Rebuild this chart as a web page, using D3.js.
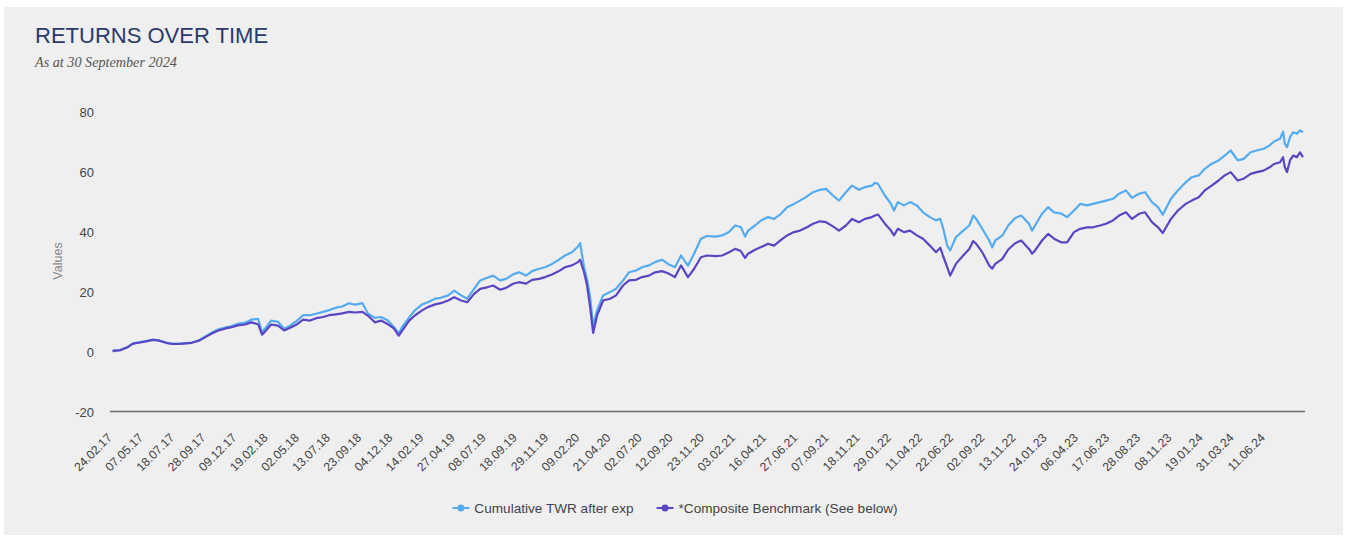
<!DOCTYPE html>
<html><head><meta charset="utf-8">
<script src="https://cdn.jsdelivr.net/npm/d3@7"></script>
<style>
body{margin:0;background:#fff;}
text{font-family:"Liberation Sans",Arial,Helvetica,sans-serif;}
</style></head>
<body>
<svg id="chart" width="1347" height="540"></svg>
<script>
// ---- DATA ----
const titleText = "RETURNS OVER TIME";
const subtitleText = "As at 30 September 2024";
const seriesNames = ["Cumulative TWR after exp", "*Composite Benchmark (See below)"];
// day index since 24.02.17 (category position on the daily axis)
const dayIndex = [0,3,17,33,47,63,77,93,107,123,137,153,169,183,199,213,229,243,259,275,289,306,320,336,345,354,366,382,396,410,426,440,456,470,486,500,516,530,546,560,577,590,606,620,636,650,661,668,685,698,715,728,745,758,775,789,805,819,835,849,865,879,895,909,925,939,955,969,985,999,1015,1031,1045,1061,1075,1080,1089,1096,1103,1110,1119,1133,1149,1163,1179,1193,1209,1223,1239,1253,1269,1283,1299,1313,1329,1343,1359,1373,1394,1408,1424,1438,1451,1461,1468,1484,1498,1514,1528,1544,1558,1574,1588,1604,1618,1634,1648,1664,1678,1694,1708,1724,1738,1754,1761,1768,1784,1798,1805,1814,1828,1842,1858,1872,1888,1902,1912,1918,1928,1935,1948,1965,1979,1988,1995,2009,2025,2032,2039,2055,2069,2085,2099,2117,2124,2131,2147,2161,2175,2191,2205,2221,2235,2251,2265,2281,2295,2311,2325,2341,2355,2371,2385,2401,2415,2426,2445,2461,2479,2493,2509,2523,2539,2555,2569,2583,2599,2613,2629,2643,2659,2673,2683,2697,2704,2708,2713,2720,2727,2736,2743,2750];
const twr = [0,0.3,0.5,1.4,2.7,3.1,3.5,4.0,3.7,3.0,2.6,2.6,2.8,3.0,3.7,4.9,6.3,7.3,8.0,8.5,9.2,9.6,10.6,10.9,6.5,8.0,10.3,9.9,7.6,8.6,10.3,12.1,12.1,12.6,13.2,13.8,14.6,15.0,16.1,15.6,16.1,12.6,11.2,11.5,10.3,8.1,6.0,8.0,11.4,13.7,15.7,16.4,17.6,17.9,18.7,20.3,18.7,17.6,20.9,23.7,24.6,25.3,23.7,24.2,25.7,26.4,25.3,26.8,27.6,28.1,29.2,30.6,32.0,33.1,35.0,36.1,28.1,24.0,18.1,8.5,13.7,18.7,19.8,20.9,23.7,26.4,27.0,28.1,28.7,29.8,30.6,29.2,28.1,32.0,28.6,32.5,37.6,38.5,38.3,38.7,39.8,42.0,41.5,38.3,40.3,42.0,43.7,44.8,44.2,45.9,48.1,49.2,50.3,51.7,53.1,53.9,54.2,52.0,50.3,53.1,55.3,53.9,54.8,55.3,56.2,55.9,52.0,49.2,47.0,49.8,48.7,49.8,48.7,46.4,44.8,43.7,44.2,41.4,35.3,33.7,38.1,40.3,42.0,45.3,44.2,40.9,37.0,34.7,37.0,38.6,42.0,44.5,45.3,42.6,40.3,42.0,45.9,48.1,46.4,46.0,44.8,47.0,49.2,48.7,49.2,49.8,50.3,50.9,52.6,53.7,51.2,52.6,53.1,49.8,48.1,45.6,50.9,53.7,56.4,58.1,58.7,60.9,62.6,63.7,65.3,67.0,63.7,64.2,66.4,67.0,67.6,68.7,70.0,70.9,73.3,69.2,68.1,71.4,73.1,72.6,73.7,73.1];
const bench = [0,0.3,0.4,1.3,2.6,3.0,3.4,3.9,3.6,2.9,2.5,2.5,2.7,2.9,3.6,4.7,6.0,6.9,7.6,8.1,8.7,9.0,9.7,9.1,5.6,7.0,9.0,8.6,7.0,7.9,9.1,10.6,10.3,11.1,11.5,12.1,12.4,12.7,13.2,13.0,13.2,11.9,9.7,10.3,9.1,7.6,5.3,6.8,10.3,12.0,13.7,14.8,15.7,16.1,17.0,18.1,17.0,16.4,19.2,20.9,21.4,22.0,20.6,21.2,22.6,23.1,22.6,23.9,24.2,24.8,25.7,26.8,28.1,28.7,29.8,30.6,26.4,22.0,14.8,6.2,12.0,17.0,17.6,18.7,22.0,23.7,23.9,24.8,25.3,26.4,26.8,26.1,24.8,28.7,24.8,27.5,31.4,32.0,31.8,32.0,33.1,34.2,33.5,31.2,32.6,33.9,34.8,35.9,35.3,37.2,38.7,39.8,40.3,41.4,42.6,43.4,43.1,41.7,40.3,42.0,44.2,43.1,44.2,44.8,45.3,45.7,42.6,40.3,38.7,40.9,39.8,40.3,38.7,37.6,35.3,33.1,34.6,32.0,28.1,25.3,29.2,32.0,34.2,36.8,35.9,33.1,28.7,27.6,29.2,30.8,34.0,36.1,37.0,34.2,32.6,33.7,37.0,39.2,37.6,36.4,36.4,39.8,40.9,41.4,41.4,42.0,42.6,43.7,45.3,46.4,44.2,45.9,46.4,43.1,41.4,39.5,44.2,47.0,49.2,50.3,51.4,53.7,55.3,57.0,58.7,59.8,57.0,57.6,59.2,59.8,60.3,61.4,62.5,63.1,64.8,61.4,59.8,63.7,65.3,64.8,66.4,64.8];
const tickLabels = ["24.02.17","07.05.17","18.07.17","28.09.17","09.12.17","19.02.18","02.05.18","13.07.18","23.09.18","04.12.18","14.02.19","27.04.19","08.07.19","18.09.19","29.11.19","09.02.20","21.04.20","02.07.20","12.09.20","23.11.20","03.02.21","16.04.21","27.06.21","07.09.21","18.11.21","29.01.22","11.04.22","22.06.22","02.09.22","13.11.22","24.01.23","06.04.23","17.06.23","28.08.23","08.11.23","19.01.24","31.03.24","11.06.24"];
const tickStep = 72;
const yTicks = [-20,0,20,40,60,80];
const colors = ["#55abf0", "#5a45c3"];

// ---- DRAW ----
const svg = d3.select("#chart");
svg.append("rect").attr("x",4).attr("y",7).attr("width",1339).attr("height",528).attr("fill","#efefef");

svg.append("text").attr("x",35).attr("y",43).text(titleText)
  .attr("fill","#2b3a6b").style("font-size","22px");
svg.append("text").attr("x",35).attr("y",67).text(subtitleText)
  .attr("fill","#555").style("font-family","'Liberation Serif','DejaVu Serif',serif")
  .style("font-style","italic").style("font-size","14.2px");

const x = d3.scaleLinear().domain([0, d3.max(dayIndex)]).range([112.7, 1303]);
const y = d3.scaleLinear().domain([-20, 80]).range([411.5, 111.5]);

// y tick labels
const yAxis = d3.axisLeft(y).tickValues(yTicks).tickSize(0).tickPadding(0).tickFormat(d => String(d));
const yg = svg.append("g").attr("transform","translate(94,0)").call(yAxis);
yg.select(".domain").remove();
yg.selectAll("text").attr("fill","#444").style("font-size","13px")
  .style("font-family","'Liberation Sans',Arial,sans-serif").attr("dy","0.35em");

svg.append("text").attr("transform","translate(62,261) rotate(-90)")
  .attr("text-anchor","middle").attr("fill","#888").style("font-size","12.5px").text("Values");

// baseline axis
const xg = svg.append("g").attr("transform",`translate(0,${y(-20)})`);
xg.append("line").attr("x1",110).attr("x2",1305).attr("stroke","#6b6b6b").attr("stroke-width",1.6);

// x tick labels
const ticks = tickLabels.map((t,i)=>({label:t, idx:i*tickStep}));
svg.append("g").selectAll("text").data(ticks).join("text")
  .attr("transform",d=>`translate(${x(d.idx)},${y(-20)+27}) rotate(-45)`)
  .attr("text-anchor","end").attr("fill","#444").style("font-size","12.2px")
  .text(d=>d.label);

// lines
const seriesData = [twr, bench];
const line = d3.line().x(d=>x(d[0])).y(d=>y(d[1])).curve(d3.curveLinear);
seriesData.forEach((vals,k)=>{
  svg.append("path").datum(dayIndex.map((d,i)=>[d, vals[i]]))
    .attr("fill","none").attr("stroke",colors[k]).attr("stroke-width",2.2)
    .attr("stroke-linejoin","round").attr("d",line);
});

// legend
const lg = svg.append("g").attr("transform","translate(0,508)");
const items = [];
seriesNames.forEach((name,k)=>{
  const g = lg.append("g");
  g.append("line").attr("x1",0).attr("x2",17).attr("y1",0).attr("y2",0).attr("stroke",colors[k]).attr("stroke-width",2);
  g.append("circle").attr("cx",8.5).attr("cy",0).attr("r",3.5).attr("fill",colors[k]);
  const t = g.append("text").attr("x",22).attr("y",0).attr("dy","0.35em").attr("fill","#444").style("font-size","13.6px").text(name);
  const w = 22 + t.node().getComputedTextLength();
  items.push({g,w});
});
const gap = 23;
const total = d3.sum(items,d=>d.w) + gap*(items.length-1);
let start = 675 - total/2;
items.forEach(it=>{ it.g.attr("transform",`translate(${start},0)`); start += it.w + gap; });
</script>
</body></html>
